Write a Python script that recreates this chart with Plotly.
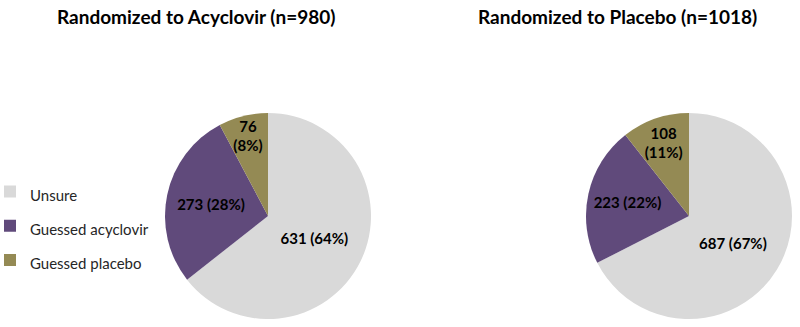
import plotly.graph_objects as go

categories = ["Unsure", "Guessed acyclovir", "Guessed placebo"]
acyclovir_counts = [631, 273, 76]
placebo_counts = [687, 223, 108]
titles = ["Randomized to Acyclovir (n=980)", "Randomized to Placebo (n=1018)"]
colors = ["#D9D9D9", "#604A7B", "#948A54"]

W, H = 800, 327


def domain(cx, cy, r):
    return dict(x=[(cx - r) / W, (cx + r) / W], y=[(H - cy - r) / H, (H - cy + r) / H])


templates = ["%{value} (%{percent:.0%})", "%{value} (%{percent:.0%})", "%{value}<br>(%{percent:.0%})"]
legend_labels = ["<span style='font-size:15px'>%s</span>" % c for c in categories]

fig = go.Figure()
for vals, cx, lg in [(acyclovir_counts, 268, "legend"), (placebo_counts, 689, "legend2")]:
    fig.add_trace(go.Pie(
        labels=legend_labels,
        values=vals,
        sort=False,
        direction="clockwise",
        rotation=0,
        marker=dict(colors=colors, line=dict(width=0)),
        texttemplate=templates,
        textposition="inside",
        insidetextorientation="horizontal",
        textfont=dict(family="Lato", size=15, color="#000000", weight="bold"),
        domain=domain(cx, 216, 103),
        legend=lg,
        hoverinfo="label+value+percent",
    ))

leg_common = dict(
    font=dict(family="Lato", size=24, color="#262626"),
    bgcolor="rgba(0,0,0,0)",
    xanchor="left", yanchor="middle",
    y=(H - 226) / H,
    traceorder="normal",
)

fig.update_layout(
    width=W, height=H,
    margin=dict(l=0, r=0, t=0, b=0, autoexpand=False),
    paper_bgcolor="white",
    plot_bgcolor="white",
    showlegend=True,
    uniformtext=dict(minsize=15, mode="show"),
    legend=dict(x=-0.0125, **leg_common),
    legend2=dict(x=0.51, **leg_common),
    annotations=[
        dict(text="<b>%s</b>" % titles[0], x=196 / W, y=1 - 17 / H, xref="paper", yref="paper",
             xanchor="center", yanchor="middle", showarrow=False,
             font=dict(family="Lato", size=19, color="#000000")),
        dict(text="<b>%s</b>" % titles[1], x=617 / W, y=1 - 17 / H, xref="paper", yref="paper",
             xanchor="center", yanchor="middle", showarrow=False,
             font=dict(family="Lato", size=19, color="#000000")),
    ],
)

fig.write_html(
    "out.html",
    config={"displayModeBar": False},
    post_script="document.body.style.margin='0';document.body.style.overflow='hidden';",
)
